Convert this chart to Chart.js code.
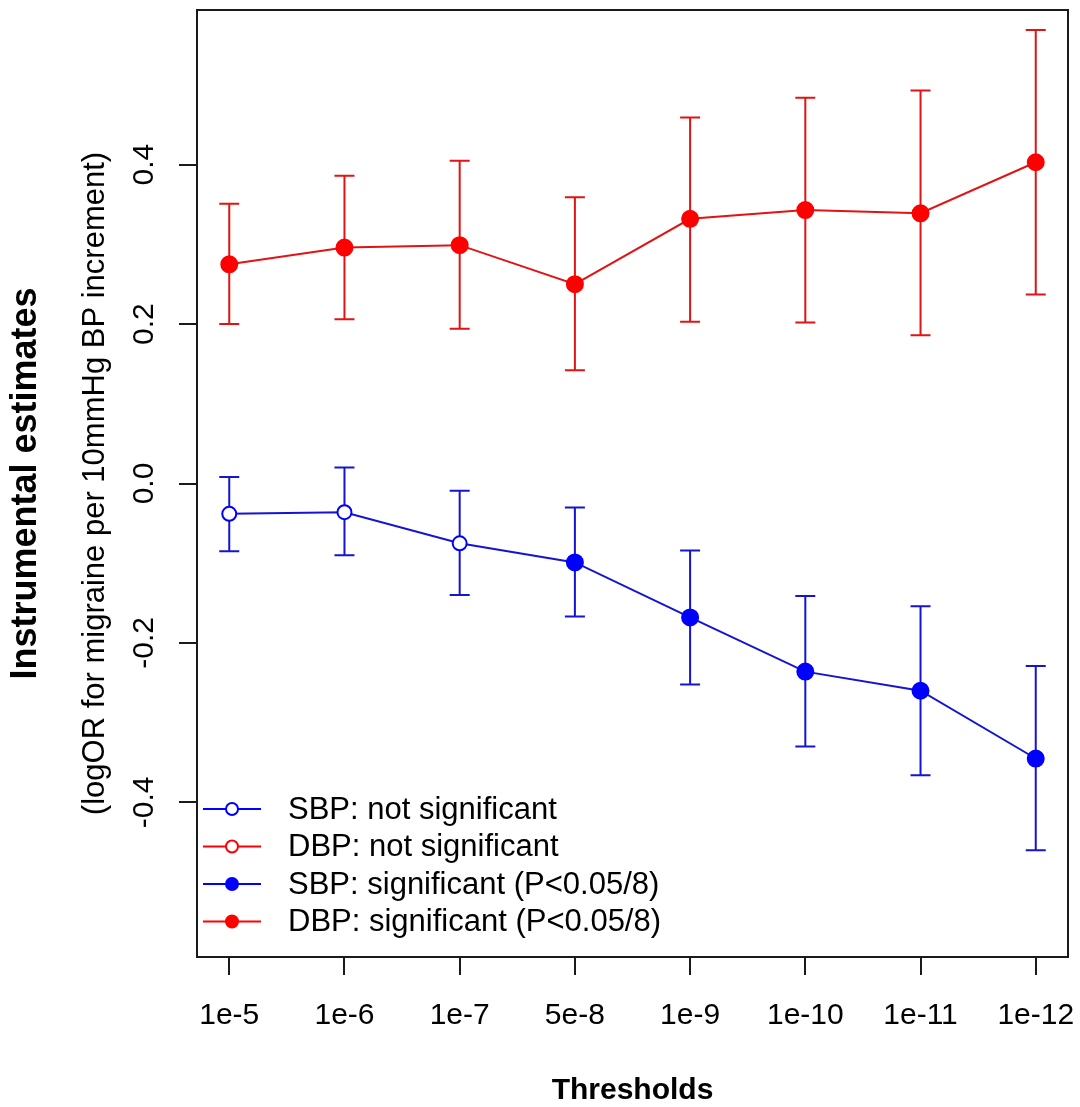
<!DOCTYPE html>
<html>
<head>
<meta charset="utf-8">
<script src="https://cdn.jsdelivr.net/npm/chart.js@4"></script>
<style>
  body { margin: 0; background: #fff; }
  #wrap { width: 1080px; height: 1107px; }
</style>
</head>
<body>
<div id="wrap"><canvas id="chart" width="1080" height="1107"></canvas></div>
<script>
// Data
const thresholds = ['1e-5', '1e-6', '1e-7', '5e-8', '1e-9', '1e-10', '1e-11', '1e-12'];

const dbpEst = [0.275, 0.296, 0.299, 0.250, 0.332, 0.343, 0.339, 0.403];
const dbpLower = [0.200, 0.206, 0.194, 0.142, 0.203, 0.202, 0.186, 0.237];
const dbpUpper = [0.351, 0.386, 0.405, 0.359, 0.459, 0.484, 0.493, 0.569];
const dbpSignificant = [true, true, true, true, true, true, true, true];

const sbpEst = [-0.038, -0.036, -0.075, -0.099, -0.168, -0.236, -0.260, -0.345];
const sbpLower = [-0.085, -0.090, -0.140, -0.167, -0.252, -0.330, -0.366, -0.460];
const sbpUpper = [0.008, 0.020, -0.009, -0.030, -0.084, -0.141, -0.154, -0.229];
const sbpSignificant = [false, false, false, true, true, true, true, true];

const yTicks = [-0.4, -0.2, 0.0, 0.2, 0.4];
const yTickLabels = ['-0.4', '-0.2', '0.0', '0.2', '0.4'];

const legendItems = [
  { label: 'SBP: not significant', color: 'blue', filled: false },
  { label: 'DBP: not significant', color: 'red', filled: false },
  { label: 'SBP: significant (P<0.05/8)', color: 'blue', filled: true },
  { label: 'DBP: significant (P<0.05/8)', color: 'red', filled: true },
];

const FONT = "'Liberation Sans', Arial, Helvetica, sans-serif";
const colors = {
  sbp: { line: '#1414d2', point: '#0000ff' },
  dbp: { line: '#e01414', point: '#ff0000' },
  axis: '#1a1a1a',
};

const toPoints = (vals) => vals.map((y, i) => ({ x: i + 1, y }));

/**
 * Vertical error bars with caps, drawn under the points
 */
const errorBars = {
  id: 'errorBars',
  beforeDatasetsDraw(chart) {
    const { ctx, scales: { x, y } } = chart;
    const sets = [
      { lower: dbpLower, upper: dbpUpper, color: colors.dbp.line },
      { lower: sbpLower, upper: sbpUpper, color: colors.sbp.line },
    ];
    ctx.save();
    ctx.lineWidth = 2;
    sets.forEach(s => {
      ctx.strokeStyle = s.color;
      s.lower.forEach((lo, i) => {
        const px = x.getPixelForValue(i + 1);
        const y0 = y.getPixelForValue(lo);
        const y1 = y.getPixelForValue(s.upper[i]);
        ctx.beginPath();
        ctx.moveTo(px, y0); ctx.lineTo(px, y1);
        ctx.moveTo(px - 10, y0); ctx.lineTo(px + 10, y0);
        ctx.moveTo(px - 10, y1); ctx.lineTo(px + 10, y1);
        ctx.stroke();
      });
    });
    ctx.restore();
  },
};

/**
 * Box, rotated y labels, axis titles and the in-plot legend (R style)
 */
const decorations = {
  id: 'decorations',
  afterDraw(chart) {
    const { ctx, chartArea: a, scales: { y } } = chart;
    ctx.save();

    // plot box
    ctx.strokeStyle = colors.axis;
    ctx.lineWidth = 2;
    ctx.strokeRect(a.left, a.top, a.right - a.left, a.bottom - a.top);

    // rotated y tick labels
    ctx.fillStyle = '#000';
    ctx.textAlign = 'center';
    ctx.textBaseline = 'alphabetic';
    ctx.font = `30px ${FONT}`;
    yTicks.forEach((v, i) => {
      ctx.save();
      ctx.translate(153, y.getPixelForValue(v));
      ctx.rotate(-Math.PI / 2);
      ctx.fillText(yTickLabels[i], 0, 0);
      ctx.restore();
    });

    // y titles
    const midY = (a.top + a.bottom) / 2;
    ctx.save();
    ctx.translate(36, midY);
    ctx.rotate(-Math.PI / 2);
    ctx.font = `bold 36px ${FONT}`;
    ctx.fillText('Instrumental estimates', 0, 0);
    ctx.restore();

    ctx.save();
    ctx.translate(104, midY);
    ctx.rotate(-Math.PI / 2);
    ctx.font = `31px ${FONT}`;
    ctx.fillText('(logOR for migraine per 10mmHg BP increment)', 0, 0);
    ctx.restore();

    // x title
    ctx.font = `bold 30px ${FONT}`;
    ctx.fillText('Thresholds', (a.left + a.right) / 2, 1099);

    // legend
    ctx.textAlign = 'left';
    ctx.textBaseline = 'middle';
    ctx.font = `31px ${FONT}`;
    legendItems.forEach((item, i) => {
      const ly = 809 + i * 37.5;
      ctx.strokeStyle = item.color;
      ctx.lineWidth = 2;
      ctx.beginPath();
      ctx.moveTo(203, ly); ctx.lineTo(261, ly);
      ctx.stroke();
      ctx.beginPath();
      ctx.arc(232, ly, 6, 0, Math.PI * 2);
      ctx.fillStyle = item.filled ? item.color : '#fff';
      ctx.fill();
      ctx.stroke();
      ctx.fillStyle = '#000';
      ctx.fillText(item.label, 288, ly + 1);
    });

    ctx.restore();
  },
};

const pointFill = (sig, color) => sig.map(s => (s ? color : '#fff'));
const pointSize = (sig) => sig.map(s => (s ? 8 : 7));

new Chart(document.getElementById('chart'), {
  type: 'line',
  data: {
    datasets: [
      {
        label: 'DBP',
        data: toPoints(dbpEst),
        borderColor: colors.dbp.line,
        borderWidth: 2,
        tension: 0,
        pointRadius: pointSize(dbpSignificant),
        pointBorderWidth: 2,
        pointBorderColor: colors.dbp.point,
        pointBackgroundColor: pointFill(dbpSignificant, colors.dbp.point),
      },
      {
        label: 'SBP',
        data: toPoints(sbpEst),
        borderColor: colors.sbp.line,
        borderWidth: 2,
        tension: 0,
        pointRadius: pointSize(sbpSignificant),
        pointBorderWidth: 2,
        pointBorderColor: colors.sbp.point,
        pointBackgroundColor: pointFill(sbpSignificant, colors.sbp.point),
      },
    ],
  },
  options: {
    responsive: false,
    animation: false,
    layout: { padding: { top: 10, right: 12, left: 0, bottom: 0 } },
    plugins: {
      legend: { display: false },
      tooltip: { enabled: false },
    },
    scales: {
      x: {
        type: 'linear',
        min: 0.72,
        max: 8.28,
        afterBuildTicks: (scale) => {
          scale.ticks = thresholds.map((_, i) => ({ value: i + 1 }));
        },
        afterFit: (scale) => {
          scale.height = 150;
          // don't let the last label push the plot box inwards
          scale.paddingLeft = 0;
          scale.paddingRight = 0;
        },
        grid: { drawOnChartArea: false, tickLength: 18, color: colors.axis, lineWidth: 2 },
        border: { display: false },
        ticks: {
          color: '#000',
          font: { family: FONT, size: 30 },
          padding: 23,
          maxRotation: 0,
          autoSkip: false,
          callback: (v, i) => thresholds[i],
        },
      },
      y: {
        min: -0.594,
        max: 0.594,
        afterBuildTicks: (scale) => {
          scale.ticks = yTicks.map(v => ({ value: v }));
        },
        afterFit: (scale) => { scale.width = 197; },
        grid: { drawOnChartArea: false, tickLength: 18, color: colors.axis, lineWidth: 2 },
        border: { display: false },
        ticks: { display: false },
      },
    },
  },
  plugins: [errorBars, decorations],
});
</script>
</body>
</html>
